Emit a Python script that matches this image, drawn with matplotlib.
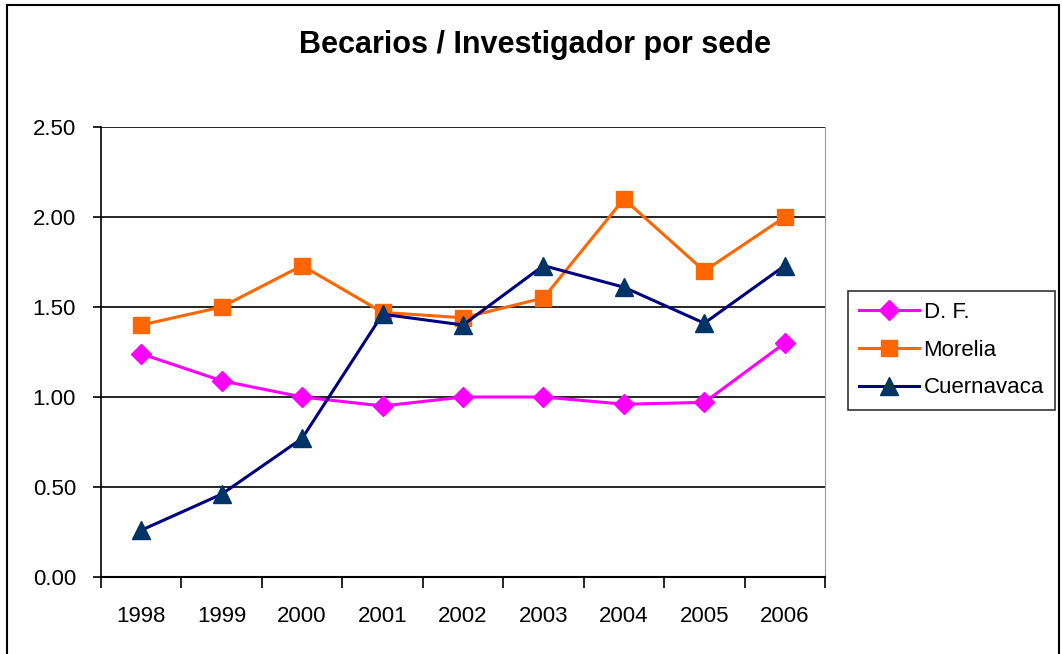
import matplotlib.pyplot as plt
from matplotlib.patches import Rectangle

plt.rcParams['font.family'] = ['Liberation Sans', 'DejaVu Sans']

years = ['1998', '1999', '2000', '2001', '2002', '2003', '2004', '2005', '2006']
df = [1.24, 1.09, 1.00, 0.95, 1.00, 1.00, 0.96, 0.97, 1.30]
morelia = [1.40, 1.50, 1.73, 1.47, 1.44, 1.55, 2.10, 1.70, 2.00]
cuernavaca = [0.26, 0.46, 0.77, 1.46, 1.40, 1.73, 1.61, 1.41, 1.73]

fig = plt.figure(figsize=(10.62, 6.54), dpi=100)
ax = fig.add_axes([101 / 1062, 77 / 654, 724 / 1062, 450 / 654])

# outer chart border
fig.patches.append(Rectangle((7 / 1062, -0.01), 1052 / 1062, 1 - 5 / 654 + 0.01,
                             transform=fig.transFigure, fill=False,
                             edgecolor='black', linewidth=1.5))

x = list(range(len(years)))
ax.plot(x, df, color='#FF00FF', marker='D', markersize=10, linewidth=2.2,
        label='D. F.')
ax.plot(x, morelia, color='#FF6600', marker='s', markersize=12, linewidth=2.2,
        label='Morelia')
ax.plot(x, cuernavaca, color='#000080', marker='^', markersize=13,
        markerfacecolor='#003366', markeredgecolor='#003366', linewidth=2.2,
        label='Cuernavaca')

ax.set_xlim(-0.5, len(years) - 0.5)
ax.set_ylim(0, 2.5)
ax.set_yticks([0, 0.5, 1.0, 1.5, 2.0, 2.5])
ax.set_yticklabels(['%.2f' % v for v in [0, 0.5, 1.0, 1.5, 2.0, 2.5]])
ax.yaxis.grid(True, color='black', linewidth=1.2)
ax.set_axisbelow(True)

# Excel style category axis: ticks between categories, labels centred
ax.set_xticks([i - 0.5 for i in range(len(years) + 1)])
ax.set_xticklabels([])
ax.set_xticks(x, minor=True)
ax.set_xticklabels(years, minor=True)
ax.tick_params(axis='x', which='major', direction='out', length=8, width=1.2)
ax.tick_params(axis='x', which='minor', length=0, pad=21, labelsize=16)
ax.tick_params(axis='y', direction='out', length=6, width=1.2, labelsize=16,
               pad=12)

ax.spines['top'].set_visible(False)
ax.spines['right'].set_color('#999999')
ax.spines['left'].set_linewidth(1.2)
ax.spines['bottom'].set_linewidth(1.5)

fig.text(535 / 1062, 1 - 45 / 654, 'Becarios / Investigador por sede',
         ha='center', va='center', fontsize=22, fontweight='bold')

leg = fig.legend(loc='upper left', bbox_to_anchor=(848 / 1062, 1 - 291 / 654),
                 frameon=True, fancybox=False, edgecolor='black', fontsize=16,
                 handlelength=2.7, borderpad=0.5, labelspacing=0.75,
                 handletextpad=0.2, borderaxespad=0)
leg.get_frame().set_linewidth(1.2)

fig.savefig('out.png', dpi=100)
